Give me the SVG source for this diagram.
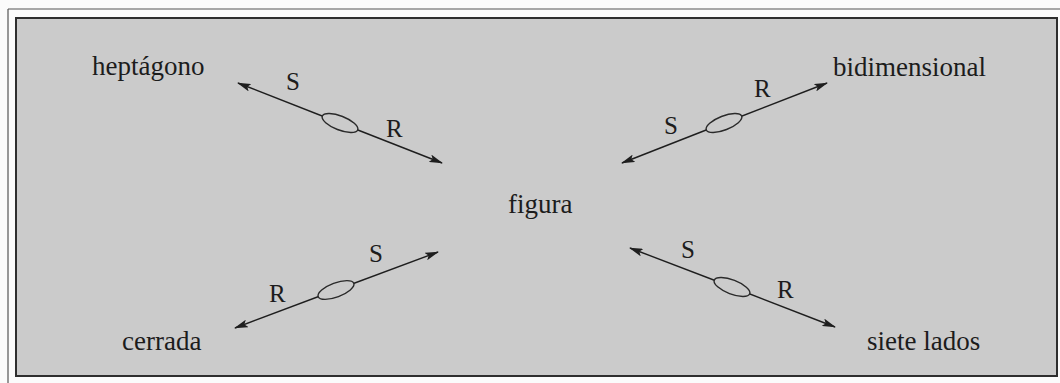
<svg xmlns="http://www.w3.org/2000/svg" width="1060" height="383" viewBox="0 0 1060 383">
  <style>
    .lbl { font-family: "Liberation Serif", "DejaVu Serif", serif; font-size: 27px; fill: #1c1c1c; }
    .sr { font-family: "Liberation Serif", "DejaVu Serif", serif; font-size: 25px; fill: #1c1c1c; }
    .conn { stroke: #1e1e1e; stroke-width: 1.4; fill: none; marker-start: url(#ah); marker-end: url(#ah); }
    .oval { stroke: #2a2a2a; stroke-width: 1.4; fill: #cbcbcb; }
  </style>
  <defs>
    <marker id="ah" viewBox="0 0 14 8" refX="13" refY="4" markerWidth="14" markerHeight="8" markerUnits="userSpaceOnUse" orient="auto-start-reverse">
      <path d="M0,0 L14,4 L0,8 L3,4 Z" fill="#1e1e1e"/>
    </marker>
  </defs>
  <rect x="0" y="0" width="1060" height="383" fill="#fbfbfb"/>
  <g id="frame">
    <line x1="8" y1="9" x2="1060" y2="9" stroke="#555" stroke-width="1.2"/>
    <line x1="8" y1="9" x2="8" y2="383" stroke="#555" stroke-width="1.2"/>
    <rect x="16" y="18" width="1041" height="358" fill="#cbcbcb" stroke="#2e2e2e" stroke-width="2"/>
  </g>
  <g id="connectors">
    <g id="c-heptagono">
      <line class="conn" x1="340" y1="123" x2="238" y2="83"/>
      <line class="conn" x1="340" y1="123" x2="442" y2="163"/>
      <ellipse class="oval" cx="340" cy="123" rx="19" ry="7" transform="rotate(21.4 340 123)"/>
      <text class="sr" x="286" y="90">S</text>
      <text class="sr" x="386" y="137">R</text>
    </g>
    <g id="c-bidimensional">
      <line class="conn" x1="724" y1="123" x2="827" y2="83"/>
      <line class="conn" x1="724" y1="123" x2="622" y2="163"/>
      <ellipse class="oval" cx="724" cy="123" rx="19" ry="7" transform="rotate(-21.4 724 123)"/>
      <text class="sr" x="664" y="134">S</text>
      <text class="sr" x="754" y="97">R</text>
    </g>
    <g id="c-cerrada">
      <line class="conn" x1="336" y1="290" x2="438" y2="252"/>
      <line class="conn" x1="336" y1="290" x2="235" y2="328"/>
      <ellipse class="oval" cx="336" cy="290" rx="19" ry="7" transform="rotate(-20.5 336 290)"/>
      <text class="sr" x="369" y="262">S</text>
      <text class="sr" x="269" y="302">R</text>
    </g>
    <g id="c-siete">
      <line class="conn" x1="732" y1="287" x2="630" y2="248"/>
      <line class="conn" x1="732" y1="287" x2="835" y2="327"/>
      <ellipse class="oval" cx="732" cy="287" rx="19" ry="7" transform="rotate(21 732 287)"/>
      <text class="sr" x="681" y="258">S</text>
      <text class="sr" x="777" y="298">R</text>
    </g>
  </g>
  <g id="node-heptagono"><text class="lbl" x="92" y="75">heptágono</text></g>
  <g id="node-bidimensional"><text class="lbl" x="833" y="76">bidimensional</text></g>
  <g id="node-figura"><text class="lbl" x="508" y="213">figura</text></g>
  <g id="node-cerrada"><text class="lbl" x="122" y="350">cerrada</text></g>
  <g id="node-siete"><text class="lbl" x="867" y="350">siete lados</text></g>
</svg>
